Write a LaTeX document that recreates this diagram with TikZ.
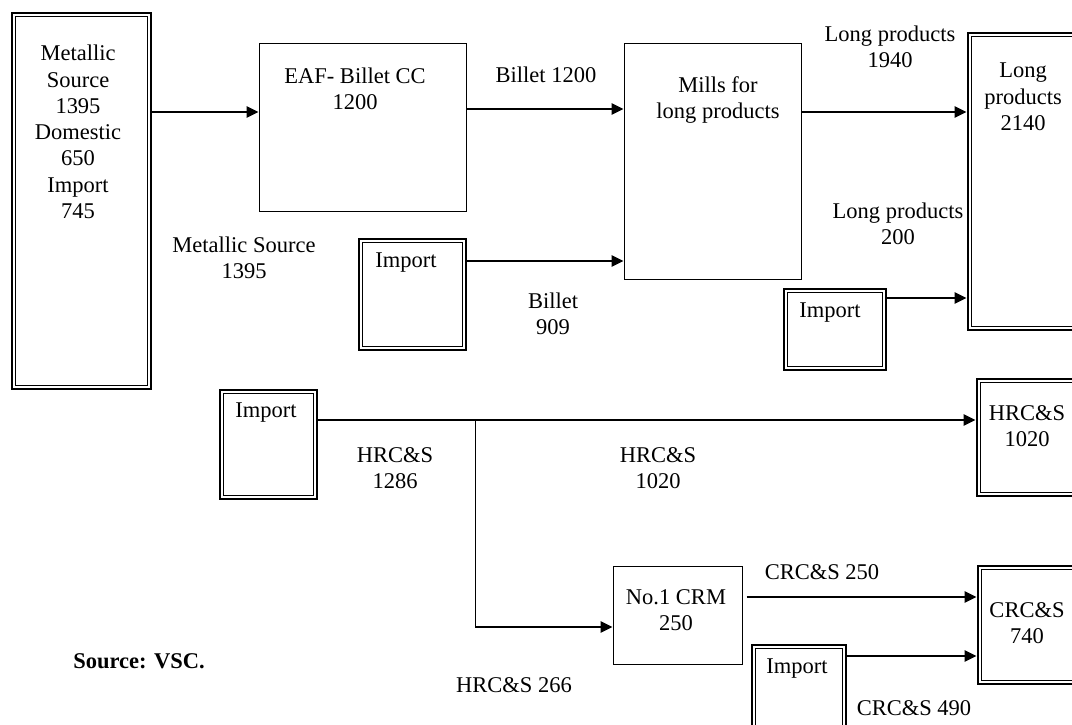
\documentclass[tikz,border=0pt]{standalone}
\usepackage{fontspec}
\setmainfont{Liberation Serif}
\usetikzlibrary{fit,arrows.meta}

\begin{document}
\begin{tikzpicture}[x=0.025cm, y=-0.025cm,
  font=\fontsize{16}{18.7}\selectfont,
  txt/.style={align=center, inner sep=0pt},
  plainbox/.style={draw, line width=0.7pt, inner sep=0pt},
  dbox/.style={draw, line width=2.1pt, inner sep=0pt},
  flow/.style={line width=1.3pt, -{Triangle[length=8.5pt, width=8pt]}}]
\useasboundingbox (0,0) rectangle (1072,724);
\clip (0,0) rectangle (1072,724);

% Boxes
\node[dbox, fit={(12,13) (151,389)}] (src) {};
\node[plainbox, fit={(259,43) (466,211)}] (eaf) {};
\node[plainbox, fit={(624,43) (801,279)}] (mills) {};
\node[dbox, fit={(968,33) (1080,330)}] (lng) {};
\node[dbox, fit={(359,239) (466,350)}] (imp1) {};
\node[dbox, fit={(784,289) (886,370)}] (imp2) {};
\node[dbox, fit={(220,390) (317,499)}] (imp3) {};
\node[dbox, fit={(977,379) (1080,496)}] (hrc) {};
\node[plainbox, fit={(613,566) (742,664)}] (crm) {};
\node[dbox, fit={(978,566) (1080,684)}] (crc) {};
\node[dbox, fit={(752,645) (846,740)}] (imp4) {};

% inner lines of the double boxes
\foreach \n in {src,lng,imp1,imp2,imp3,hrc,crc,imp4}
  \draw[line width=0.7pt] ([shift={(3.4pt,-3.4pt)}]\n.north west) rectangle ([shift={(-3.4pt,3.4pt)}]\n.south east);

% Box texts
\node[txt] (srct) at (78,132) {Metallic\\Source\\1395\\Domestic\\650\\Import\\745};
\node[txt] (eaft) at (355,89) {EAF- Billet CC\\1200};
\node[txt] (millst) at (718,100) {Mills for\\long products};
\node[txt] (lngt) at (1023,97) {Long\\products\\2140};
\node[txt] (imp1t) at (406,263) {Import};
\node[txt] (imp2t) at (830,313) {Import};
\node[txt] (imp3t) at (266,413) {Import};
\node[txt] (hrct) at (1027,426) {HRC\&S\\1020};
\node[txt] (crmt) at (676,610) {No.1 CRM\\250};
\node[txt] (crct) at (1027,623) {CRC\&S\\740};
\node[txt] (imp4t) at (797,669) {Import};

% Flow labels
\node[txt] (l1) at (244,258) {Metallic Source\\1395};
\node[txt] (l2) at (546,75) {Billet 1200};
\node[txt] (l3) at (553,314) {Billet\\909};
\node[txt] (l4) at (890,47) {Long products\\1940};
\node[txt] (l5) at (898,224) {Long products\\200};
\node[txt] (l6) at (395,468) {HRC\&S\\1286};
\node[txt] (l7) at (658,468) {HRC\&S\\1020};
\node[txt] (l8) at (514,685) {HRC\&S 266};
\node[txt] (l9) at (822,572) {CRC\&S 250};
\node[txt] (l10) at (914,708) {CRC\&S 490};
\node[txt, anchor=west, font=\fontsize{16}{18.7}\selectfont\bfseries] (srcnote) at (73,661) {Source: VSC.};

% Flows
\coordinate (r1) at (0,112);
\coordinate (r1b) at (0,109);
\coordinate (r2) at (0,261);
\coordinate (r3) at (0,298);
\coordinate (r4) at (0,420);
\coordinate (r5) at (0,597);
\coordinate (r6) at (0,627);
\coordinate (r7) at (0,656);
\coordinate (br) at (475,420);
\draw[flow] (src.east |- r1) -- (eaf.west |- r1);
\draw[flow] (eaf.east |- r1b) -- (mills.west |- r1b);
\draw[flow] (mills.east |- r1) -- (lng.west |- r1);
\draw[flow] (imp1.east |- r2) -- (mills.west |- r2);
\draw[flow] (imp2.east |- r3) -- (lng.west |- r3);
\draw[flow] (imp3.east |- r4) -- (hrc.west |- r4);
\draw[line width=0.7pt] (br) -- (br |- r6);
\draw[flow] (br |- r6) -- (crm.west |- r6);
\draw[flow, shorten <=3pt] (crm.east |- r5) -- (crc.west |- r5);
\draw[flow] (imp4.east |- r7) -- (crc.west |- r7);
\end{tikzpicture}
\end{document}
